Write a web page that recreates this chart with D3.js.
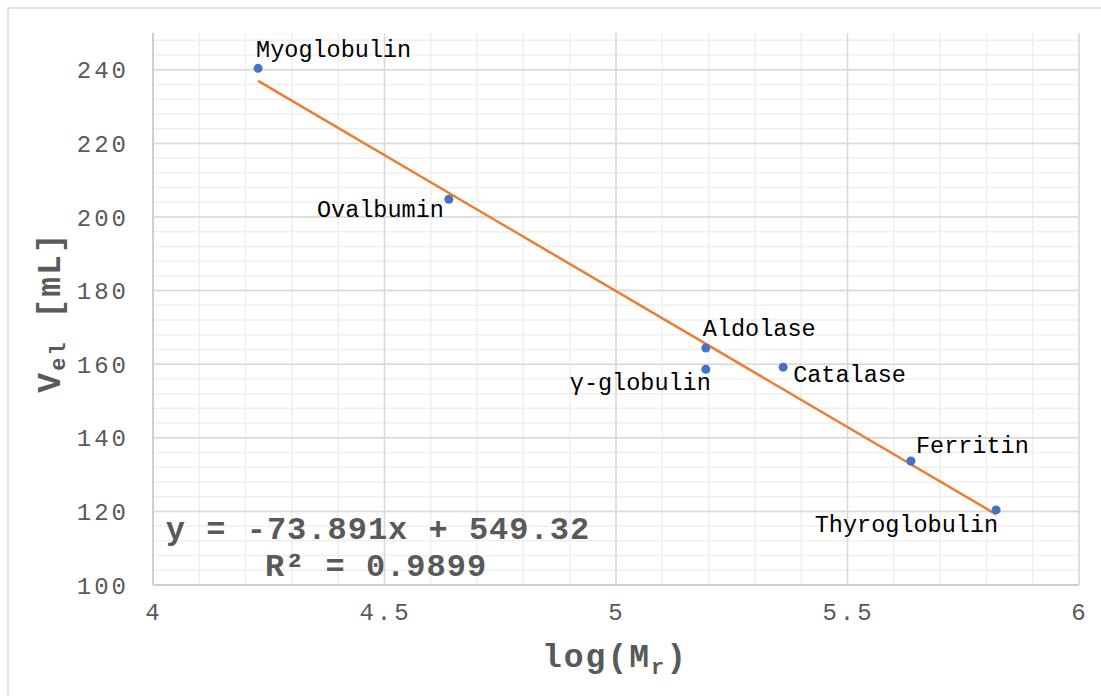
<!DOCTYPE html>
<html>
<head>
  <meta charset="utf-8" />
  <script src="https://d3js.org/d3.v7.min.js"></script>
  <style>
    body { margin: 0; background: white; }
    text { font-family: "Liberation Mono", "Courier New", monospace; }
    .tick-label { fill: #595959; font-size: 24px; letter-spacing: 3px; }
    .pt-label { fill: #000; font-size: 23.5px; }
    .title { fill: #595959; font-size: 33px; font-weight: bold; letter-spacing: 2px; }
    .eq { fill: #595959; font-size: 32px; font-weight: bold; letter-spacing: 1px; }
  </style>
</head>
<body>
  <svg id="chart" width="1101" height="696"></svg>
  <script>
    // data
    const proteins = ["Myoglobulin", "Ovalbumin", "Aldolase", "γ-globulin", "Catalase", "Ferritin", "Thyroglobulin"];
    const logMr = [4.227, 4.639, 5.194, 5.194, 5.361, 5.637, 5.821];
    const vel = [240.4, 204.8, 164.4, 158.6, 159.2, 133.7, 120.4];
    const trend = [-73.891, 549.32]; // slope, intercept
    const xTicks = [4, 4.5, 5, 5.5, 6];
    const yTicks = [100, 120, 140, 160, 180, 200, 220, 240];

    const svg = d3.select("#chart");
    const margin = { top: 33, left: 153 };
    const w = 926, h = 552;

    svg.append("rect").attr("x", 8).attr("y", 8).attr("width", 1110).attr("height", 710)
      .attr("fill", "white").attr("stroke", "#dcdcdc").attr("stroke-width", 1.5);

    const x = d3.scaleLinear().domain([4, 6]).range([0, w]);
    const y = d3.scaleLinear().domain([100, 250]).range([h, 0]);

    const g = svg.append("g").attr("transform", "translate(" + margin.left + "," + margin.top + ")");

    // minor grid
    const xMinor = d3.range(41, 61).map(d => d / 10);
    const yMinor = d3.range(104, 251, 4);
    g.append("g").selectAll("line").data(xMinor).join("line")
      .attr("x1", d => x(d)).attr("x2", d => x(d)).attr("y1", 0).attr("y2", h)
      .attr("stroke", "#efefef").attr("stroke-width", 1.5);
    g.append("g").selectAll("line").data(yMinor).join("line")
      .attr("x1", 0).attr("x2", w).attr("y1", d => y(d)).attr("y2", d => y(d))
      .attr("stroke", "#efefef").attr("stroke-width", 1.5);

    // major grid
    g.append("g").selectAll("line").data(xTicks.slice(1)).join("line")
      .attr("x1", d => x(d)).attr("x2", d => x(d)).attr("y1", 0).attr("y2", h)
      .attr("stroke", "#d9d9d9").attr("stroke-width", 1.5);
    g.append("g").selectAll("line").data(yTicks.slice(1)).join("line")
      .attr("x1", 0).attr("x2", w).attr("y1", d => y(d)).attr("y2", d => y(d))
      .attr("stroke", "#d9d9d9").attr("stroke-width", 1.5);

    // axis lines
    g.append("line").attr("x1", 0).attr("x2", 0).attr("y1", 0).attr("y2", h)
      .attr("stroke", "#cfcfcf").attr("stroke-width", 2);
    g.append("line").attr("x1", 0).attr("x2", w).attr("y1", h).attr("y2", h)
      .attr("stroke", "#cfcfcf").attr("stroke-width", 2);

    // tick labels
    g.append("g").selectAll("text").data(yTicks).join("text")
      .attr("class", "tick-label")
      .attr("x", -24).attr("y", d => y(d)).attr("dy", "0.36em")
      .attr("text-anchor", "end").text(d => d);
    g.append("g").selectAll("text").data(xTicks).join("text")
      .attr("class", "tick-label")
      .attr("x", d => x(d) + 1).attr("y", h + 35)
      .attr("text-anchor", "middle").text(d => d);

    // trendline
    const xr = d3.extent(logMr);
    g.append("line")
      .attr("x1", x(xr[0])).attr("y1", y(trend[0] * xr[0] + trend[1]))
      .attr("x2", x(xr[1])).attr("y2", y(trend[0] * xr[1] + trend[1]))
      .attr("stroke", "#ED7D31").attr("stroke-width", 2.5);

    // points
    const pts = proteins.map((p, i) => ({ name: p, x: logMr[i], y: vel[i] }));
    g.append("g").selectAll("circle").data(pts).join("circle")
      .attr("cx", d => x(d.x)).attr("cy", d => y(d.y)).attr("r", 4.5)
      .attr("fill", "#4472C4");

    // labels
    const labelPos = {
      "Myoglobulin": [-2, -11, "start"],
      "Ovalbumin": [-5, 18, "end"],
      "Aldolase": [-3, -12, "start"],
      "γ-globulin": [5, 21, "end"],
      "Catalase": [10, 15, "start"],
      "Ferritin": [5, -8, "start"],
      "Thyroglobulin": [2, 22, "end"]
    };
    g.append("g").selectAll("text").data(pts).join("text")
      .attr("class", "pt-label")
      .attr("x", d => x(d.x) + labelPos[d.name][0])
      .attr("y", d => y(d.y) + labelPos[d.name][1])
      .attr("text-anchor", d => labelPos[d.name][2])
      .text(d => d.name);

    // equation
    svg.append("text").attr("class", "eq").attr("x", 378).attr("y", 539)
      .attr("text-anchor", "middle").text("y = -73.891x + 549.32");
    svg.append("text").attr("class", "eq").attr("x", 376).attr("y", 576)
      .attr("text-anchor", "middle").text("R² = 0.9899");

    // axis titles
    const xt = svg.append("text").attr("class", "title")
      .attr("x", 615).attr("y", 667).attr("text-anchor", "middle");
    xt.append("tspan").text("log(M");
    xt.append("tspan").attr("font-size", "22px").attr("dy", 7).text("r");
    xt.append("tspan").attr("dy", -7).text(")");

    const yt = svg.append("text").attr("class", "title")
      .attr("transform", "translate(60,312) rotate(-90)").attr("text-anchor", "middle");
    yt.append("tspan").text("V");
    yt.append("tspan").attr("font-size", "22px").attr("dy", 5).text("el");
    yt.append("tspan").attr("dy", -5).text(" [mL]");
  </script>
</body>
</html>
